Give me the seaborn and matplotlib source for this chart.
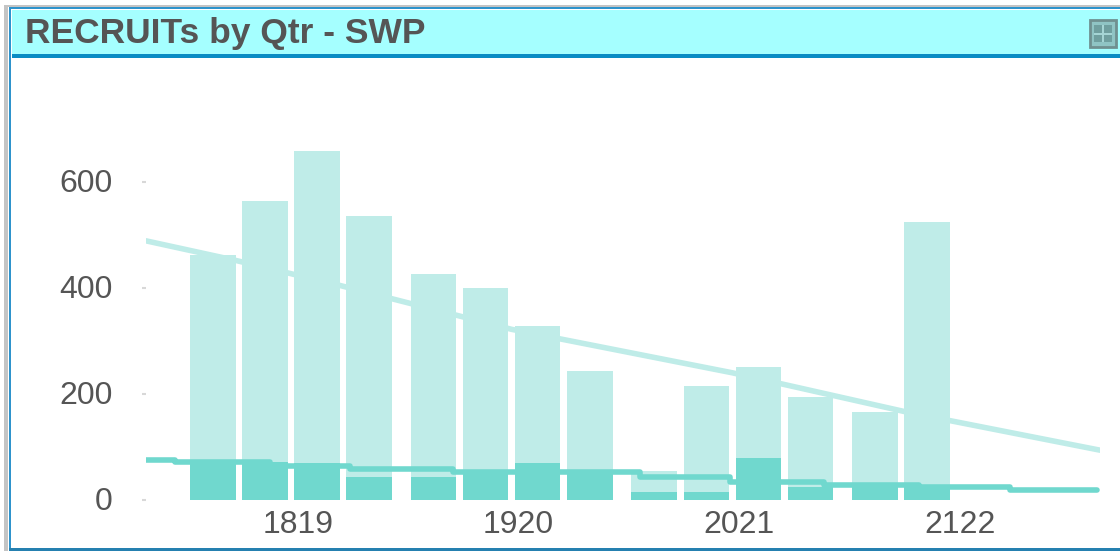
import pandas as pd
import seaborn as sns
import matplotlib.pyplot as plt
from matplotlib.patches import Rectangle
from matplotlib.transforms import ScaledTranslation

W, H = 1120, 551

years = ['1819', '1920', '2021', '2122']
qtrs = ['Q1', 'Q2', 'Q3', 'Q4']
bar_year = ['1819'] * 4 + ['1920'] * 4 + ['2021'] * 4 + ['2122'] * 2
bar_qtr = ['Q1', 'Q2', 'Q3', 'Q4'] * 3 + ['Q1', 'Q2']
total = [462, 564, 658, 536, 426, 400, 328, 243, 55, 215, 251, 194, 166, 525]
subset = [72, 72, 70, 44, 44, 55, 70, 50, 16, 16, 80, 24, 33, 25]

trend_total_x = [-0.657, -0.25, 0.22, 1.0, 2.0, 2.8, 3.666]
trend_total = [489, 452, 405, 322, 240, 165, 94]
trend_sub_x = [-0.657, -0.526, -0.095, 0.267, 0.734, 1.58, 1.99, 2.415, 2.845, 3.258, 3.652]
trend_sub = [75, 71, 65, 58, 53, 43, 34, 29, 24, 18, 18]

LIGHT = '#BFECE8'
DARK = '#70D8CE'
TEXT = '#555555'

sns.set_style('white')
plt.rcParams['font.family'] = ['Liberation Sans', 'DejaVu Sans']


def px_rect(fig, x0, y0, x1, y1, **kw):
    # pixel box, y counted from the top
    fig.add_artist(Rectangle((x0 / W, 1 - y1 / H), (x1 - x0) / W, (y1 - y0) / H,
                             transform=fig.transFigure, linewidth=kw.pop('lw', 0), **kw))


def main():
    df = pd.DataFrame({'year': bar_year, 'qtr': bar_qtr, 'total': total, 'subset': subset})

    fig = plt.figure(figsize=(W / 100, H / 100), dpi=100)
    ax = fig.add_axes([146 / W, 1 - 500 / H, (1100 - 146) / W, (500 - 70) / H])

    # panel chrome
    px_rect(fig, 4, 5, 8, H, color='#C4C4C4')
    px_rect(fig, 4, 5, W, 7, color='#C4C4C4')
    px_rect(fig, 9, 7, 11, 551, color='#2E93CC')
    px_rect(fig, 9, 7, W, 9, color='#2E93CC')
    px_rect(fig, 9, 548, W, 551, color='#2580B0')
    px_rect(fig, 12, 10, W, 54, color='#A5FFFF')
    px_rect(fig, 12, 54, W, 58, color='#0A8CC4')
    px_rect(fig, 1090, 20, 1116, 47, facecolor='#8FC4C4', edgecolor='#6F9090', lw=2)
    px_rect(fig, 1094, 25, 1112, 42, color='#6F9F9F')
    px_rect(fig, 1102, 25, 1104, 42, color='#A5D5D5')
    px_rect(fig, 1094, 33, 1112, 35, color='#A5D5D5')
    fig.text(25 / W, 1 - 34 / H, 'RECRUITs by Qtr - SWP', fontsize=25.5, fontweight='bold',
             color=TEXT, va='center', ha='left')

    # bars
    sns.barplot(data=df, x='year', y='total', hue='qtr', order=years, hue_order=qtrs,
                palette=[LIGHT] * 4, saturation=1, width=0.944, gap=0.125, linewidth=0,
                errorbar=None, legend=False, ax=ax)
    sns.barplot(data=df, x='year', y='subset', hue='qtr', order=years, hue_order=qtrs,
                palette=[DARK] * 4, saturation=1, width=0.944, gap=0.125, linewidth=0,
                errorbar=None, legend=False, ax=ax)

    # trend lines
    sns.lineplot(x=trend_total_x, y=trend_total, color=LIGHT, linewidth=4, sort=False,
                 estimator=None, ax=ax)
    sns.lineplot(x=trend_sub_x, y=trend_sub, color=DARK, linewidth=4, sort=False,
                 estimator=None, drawstyle='steps-post', ax=ax)

    ax.set_xlim(-0.657, 3.666)
    ax.set_ylim(0, 430 / 0.53)
    ax.set_yticks([0, 200, 400, 600])
    ax.set_xlabel('')
    ax.set_ylabel('')
    ax.patch.set_alpha(0)
    sns.despine(ax=ax, left=True, bottom=True)
    ax.tick_params(axis='y', length=3, width=1.5, color='#D8D8D8', labelsize=23,
                   labelcolor=TEXT, pad=21, left=True)
    ax.tick_params(axis='x', length=0, labelsize=23, labelcolor=TEXT, pad=7.5)
    # labels in the original sit a little off their ticks
    shift_x = ScaledTranslation(7 / 100, 0, fig.dpi_scale_trans)
    shift_y = ScaledTranslation(0, 1 / 100, fig.dpi_scale_trans)
    for lab in ax.get_xticklabels():
        lab.set_transform(lab.get_transform() + shift_x)
    for lab in ax.get_yticklabels():
        lab.set_transform(lab.get_transform() + shift_y)

    fig.savefig('out.png', dpi=100)


if __name__ == "__main__":
    main()
